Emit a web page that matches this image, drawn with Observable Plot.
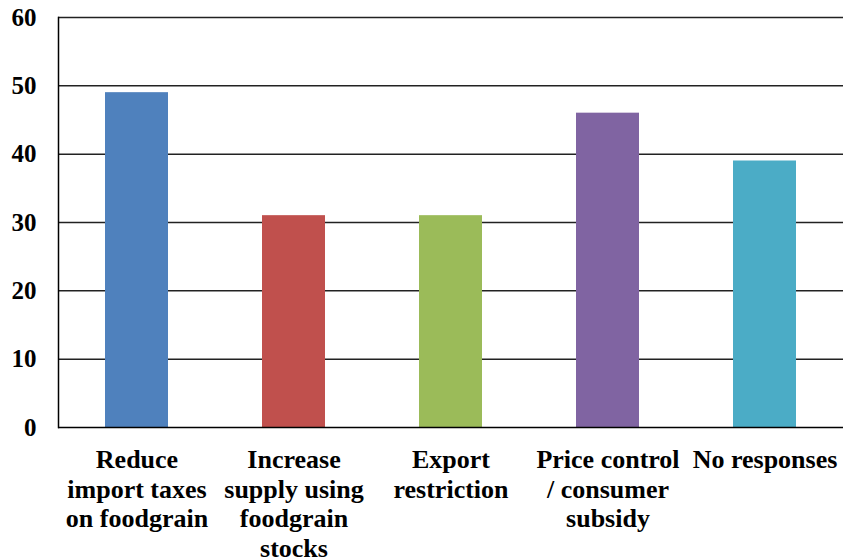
<!DOCTYPE html>
<html>
<head>
<meta charset="utf-8">
<script src="https://cdn.jsdelivr.net/npm/d3@7"></script>
<script src="https://cdn.jsdelivr.net/npm/@observablehq/plot@0.6"></script>
<style>
  html, body { margin: 0; padding: 0; background: #fff; font-family: "Times New Roman", "Liberation Serif", serif; }
  #chart svg { display: block; }
  text, tspan { font-family: "Times New Roman", "Liberation Serif", serif !important; font-weight: bold; }
</style>
</head>
<body>
<div id="chart"></div>
<script>
const categories = [
  "Reduce\nimport taxes\non foodgrain",
  "Increase\nsupply using\nfoodgrain\nstocks",
  "Export\nrestriction",
  "Price control\n/ consumer\nsubsidy",
  "No responses"
];
const values = [49, 31, 31, 46, 39];
const colors = ["#4F81BD", "#C0504D", "#9BBB59", "#8064A2", "#4BACC6"];
const yTicks = [0, 10, 20, 30, 40, 50, 60];

const data = categories.map((c, i) => ({category: c, value: values[i], color: colors[i]}));

const serif = "Times New Roman, Liberation Serif, serif";

const chart = Plot.plot({
  width: 845,
  height: 560,
  marginLeft: 58,
  marginRight: 2,
  marginTop: 17,
  marginBottom: 133,
  style: {fontFamily: serif, fontWeight: "bold", fontSize: "26px", color: "#000", background: "#fff"},
  x: {type: "band", domain: categories, paddingInner: 0.6, paddingOuter: 0.3, label: null},
  y: {domain: [0, 60], ticks: yTicks, label: null},
  marks: [
    Plot.ruleY(yTicks.filter(d => d > 0), {stroke: "#222", strokeWidth: 1.5}),
    Plot.barY(data, {x: "category", y: "value", fill: "color"}),
    Plot.ruleY([0], {stroke: "#000", strokeWidth: 1.5}),
    Plot.frame({anchor: "left", stroke: "#000", strokeWidth: 1.5}),
    Plot.axisY({ticks: yTicks, tickSize: 0, tickPadding: 22, fontSize: 25, fontWeight: "bold", fontFamily: serif, label: null}),
    Plot.axisX({tickSize: 0, tickPadding: 20, fontSize: 26, fontWeight: "bold", fontFamily: serif, lineHeight: 1.135, label: null})
  ]
});

chart.setAttribute("font-family", serif);
chart.querySelectorAll("g, text, tspan").forEach(el => {
  el.setAttribute("font-family", serif);
  el.setAttribute("font-weight", "bold");
});

document.getElementById("chart").appendChild(chart);
</script>
</body>
</html>
